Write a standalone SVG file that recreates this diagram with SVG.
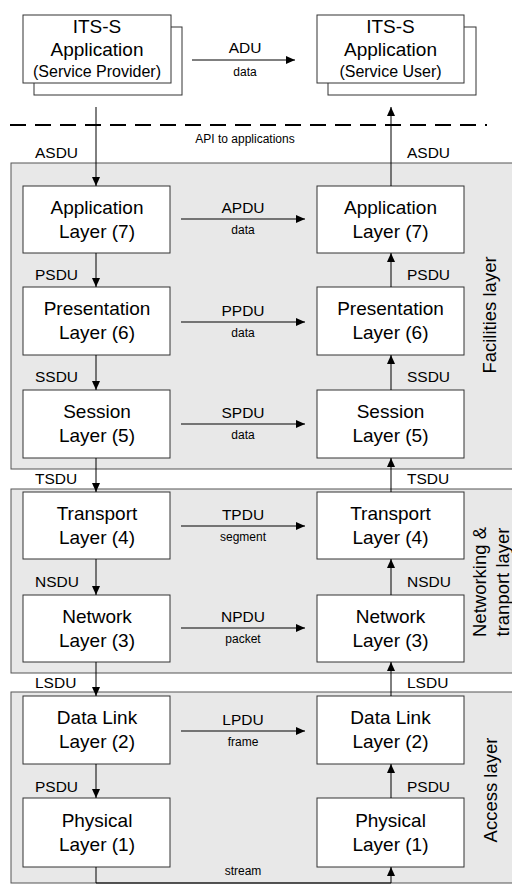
<svg xmlns="http://www.w3.org/2000/svg" width="512" height="884" viewBox="0 0 512 884">
<defs>
<style>
text{font-family:"Liberation Sans",Arial,sans-serif;fill:#000}
.panel{fill:#e8e8e8;stroke:#555;stroke-width:1}
.box{fill:#fff;stroke:#333;stroke-width:1}
.t{font-size:19px;text-anchor:middle}
.sub{font-size:16px;text-anchor:middle}
.lab{font-size:15.5px}
.pdu{font-size:15.5px;text-anchor:middle}
.sm{font-size:12px;text-anchor:middle}
.side{font-size:18.5px;text-anchor:middle}
.ln{stroke:#000;stroke-width:1;fill:none}
.arr{stroke:#000;stroke-width:1;fill:none;marker-end:url(#ah)}
</style>
<marker id="ah" markerUnits="userSpaceOnUse" markerWidth="10" markerHeight="10" refX="9" refY="4" orient="auto">
<path d="M0,0 L9,4 L0,8 Z" fill="#000"/>
</marker>
</defs>
<rect width="512" height="884" fill="#fff"/>

<g id="panels">
<rect class="panel" x="11" y="163" width="510" height="306"/>
<rect class="panel" x="11" y="489" width="510" height="184"/>
<rect class="panel" x="11" y="692" width="510" height="191"/>
<text class="side" transform="translate(496,315) rotate(-90)">Facilities layer</text>
<text class="side" transform="translate(486,582) rotate(-90)">Networking &amp;</text>
<text class="side" transform="translate(509,582) rotate(-90)">tranport layer</text>
<text class="side" transform="translate(497,790) rotate(-90)">Access layer</text>
</g>

<g id="app-provider">
<rect class="box" x="34" y="27" width="148" height="68"/>
<rect class="box" x="23" y="15" width="148" height="68"/>
<text class="t" x="97" y="33">ITS-S</text>
<text class="t" x="97" y="56">Application</text>
<text class="sub" x="97" y="77">(Service Provider)</text>
</g>
<g id="app-user">
<rect class="box" x="328" y="27" width="148" height="68"/>
<rect class="box" x="317" y="15" width="147" height="68"/>
<text class="t" x="390.5" y="33">ITS-S</text>
<text class="t" x="390.5" y="56">Application</text>
<text class="sub" x="390.5" y="77">(Service User)</text>
</g>

<g id="api">
<line x1="10" y1="125" x2="487" y2="125" stroke="#000" stroke-width="2" stroke-dasharray="16,9"/>
<text class="sm" x="245" y="143">API to applications</text>
</g>

<g id="l7-left"><rect class="box" x="23" y="186" width="147" height="67"/><text class="t" x="97" y="214">Application</text><text class="t" x="97" y="238">Layer (7)</text></g>
<g id="l7-right"><rect class="box" x="317" y="186" width="147" height="67"/><text class="t" x="390.5" y="214">Application</text><text class="t" x="390.5" y="238">Layer (7)</text></g>
<g id="l6-left"><rect class="box" x="23" y="287" width="147" height="68"/><text class="t" x="97" y="315">Presentation</text><text class="t" x="97" y="339">Layer (6)</text></g>
<g id="l6-right"><rect class="box" x="317" y="287" width="147" height="68"/><text class="t" x="390.5" y="315">Presentation</text><text class="t" x="390.5" y="339">Layer (6)</text></g>
<g id="l5-left"><rect class="box" x="23" y="390" width="147" height="68"/><text class="t" x="97" y="418">Session</text><text class="t" x="97" y="442">Layer (5)</text></g>
<g id="l5-right"><rect class="box" x="317" y="390" width="147" height="68"/><text class="t" x="390.5" y="418">Session</text><text class="t" x="390.5" y="442">Layer (5)</text></g>
<g id="l4-left"><rect class="box" x="23" y="492" width="147" height="67"/><text class="t" x="97" y="520">Transport</text><text class="t" x="97" y="544">Layer (4)</text></g>
<g id="l4-right"><rect class="box" x="317" y="492" width="147" height="67"/><text class="t" x="390.5" y="520">Transport</text><text class="t" x="390.5" y="544">Layer (4)</text></g>
<g id="l3-left"><rect class="box" x="23" y="595" width="147" height="67"/><text class="t" x="97" y="623">Network</text><text class="t" x="97" y="647">Layer (3)</text></g>
<g id="l3-right"><rect class="box" x="317" y="595" width="147" height="67"/><text class="t" x="390.5" y="623">Network</text><text class="t" x="390.5" y="647">Layer (3)</text></g>
<g id="l2-left"><rect class="box" x="23" y="696" width="147" height="68"/><text class="t" x="97" y="724">Data Link</text><text class="t" x="97" y="748">Layer (2)</text></g>
<g id="l2-right"><rect class="box" x="317" y="696" width="147" height="68"/><text class="t" x="390.5" y="724">Data Link</text><text class="t" x="390.5" y="748">Layer (2)</text></g>
<g id="l1-left"><rect class="box" x="23" y="798" width="147" height="69"/><text class="t" x="97" y="827">Physical</text><text class="t" x="97" y="851">Layer (1)</text></g>
<g id="l1-right"><rect class="box" x="317" y="798" width="147" height="69"/><text class="t" x="390.5" y="827">Physical</text><text class="t" x="390.5" y="851">Layer (1)</text></g>

<g id="connectors">
<line class="arr" x1="192" y1="60" x2="295" y2="60"/>
<text class="pdu" x="245" y="53">ADU</text><text class="sm" x="245" y="76">data</text>

<line class="arr" x1="181" y1="219" x2="305" y2="219"/>
<text class="pdu" x="243" y="213">APDU</text><text class="sm" x="243" y="234">data</text>
<line class="arr" x1="181" y1="322" x2="305" y2="322"/>
<text class="pdu" x="243" y="316">PPDU</text><text class="sm" x="243" y="337">data</text>
<line class="arr" x1="181" y1="424" x2="305" y2="424"/>
<text class="pdu" x="243" y="418">SPDU</text><text class="sm" x="243" y="439">data</text>
<line class="arr" x1="181" y1="526" x2="305" y2="526"/>
<text class="pdu" x="243" y="520">TPDU</text><text class="sm" x="243" y="541">segment</text>
<line class="arr" x1="181" y1="628" x2="305" y2="628"/>
<text class="pdu" x="243" y="622">NPDU</text><text class="sm" x="243" y="643">packet</text>
<line class="arr" x1="181" y1="731" x2="305" y2="731"/>
<text class="pdu" x="243" y="725">LPDU</text><text class="sm" x="243" y="746">frame</text>

<line class="arr" x1="96" y1="107" x2="96" y2="186"/>
<line class="arr" x1="96" y1="253" x2="96" y2="287"/>
<line class="arr" x1="96" y1="355" x2="96" y2="390"/>
<line class="arr" x1="96" y1="458" x2="96" y2="492"/>
<line class="arr" x1="96" y1="559" x2="96" y2="595"/>
<line class="arr" x1="96" y1="662" x2="96" y2="696"/>
<line class="arr" x1="96" y1="764" x2="96" y2="798"/>

<line class="arr" x1="391" y1="186" x2="391" y2="107"/>
<line class="arr" x1="391" y1="287" x2="391" y2="253"/>
<line class="arr" x1="391" y1="390" x2="391" y2="355"/>
<line class="arr" x1="391" y1="492" x2="391" y2="458"/>
<line class="arr" x1="391" y1="595" x2="391" y2="559"/>
<line class="arr" x1="391" y1="696" x2="391" y2="662"/>
<line class="arr" x1="391" y1="798" x2="391" y2="764"/>

<polyline class="arr" points="96,867 96,883 391,883 391,867"/>
<text class="sm" x="243" y="875">stream</text>

<text class="lab" x="35" y="158">ASDU</text><text class="lab" x="407" y="158">ASDU</text>
<text class="lab" x="35" y="280">PSDU</text><text class="lab" x="407" y="280">PSDU</text>
<text class="lab" x="35" y="382">SSDU</text><text class="lab" x="407" y="382">SSDU</text>
<text class="lab" x="35" y="484">TSDU</text><text class="lab" x="407" y="484">TSDU</text>
<text class="lab" x="35" y="587">NSDU</text><text class="lab" x="407" y="587">NSDU</text>
<text class="lab" x="35" y="688">LSDU</text><text class="lab" x="407" y="688">LSDU</text>
<text class="lab" x="35" y="792">PSDU</text><text class="lab" x="407" y="792">PSDU</text>
</g>
</svg>
